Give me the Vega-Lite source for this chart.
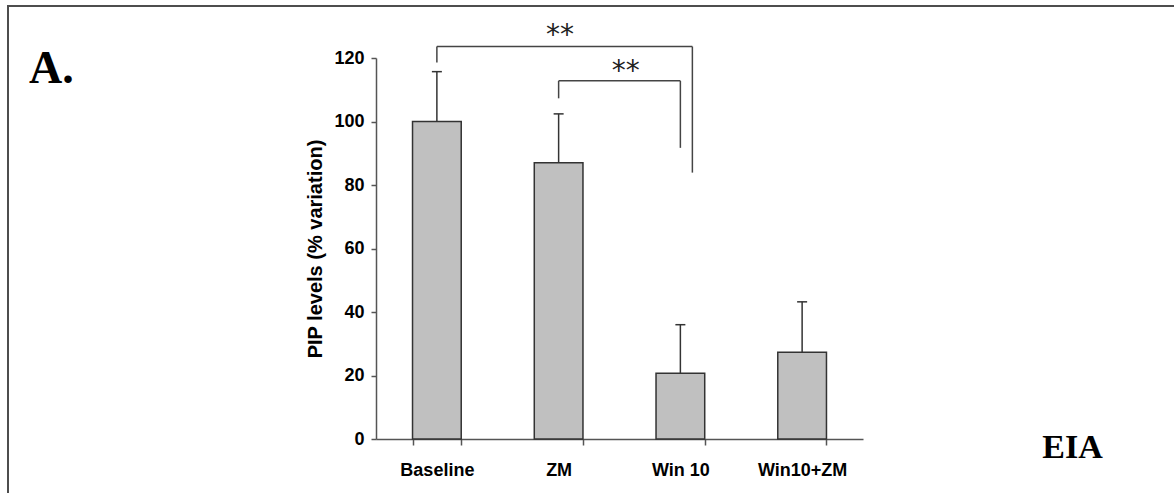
{
  "$schema": "https://vega.github.io/schema/vega-lite/v6.json",
  "width": 1166,
  "height": 487,
  "autosize": {"type": "none"},
  "padding": {"left": 8, "top": 6, "right": 0, "bottom": 0},
  "background": "white",
  "title": {
    "text": "A.",
    "anchor": "start",
    "frame": "group",
    "orient": "top",
    "offset": 0,
    "dx": 21,
    "dy": 123,
    "baseline": "alphabetic",
    "font": "Liberation Serif",
    "fontSize": 46,
    "fontWeight": "bold",
    "color": "black"
  },
  "config": {
    "view": {"stroke": "#4d4d4d", "strokeWidth": 2, "strokeDash": [1166, 1653, 487]},
    "axis": {"grid": false}
  },
  "datasets": {
    "bars": [
      {"group": "Baseline", "value": 100, "upper": 115.7},
      {"group": "ZM", "value": 87, "upper": 102.4},
      {"group": "Win 10", "value": 20.7, "upper": 36},
      {"group": "Win10+ZM", "value": 27.3, "upper": 43.2}
    ],
    "legs": [
      {"comparison": "A", "group": "Baseline", "from": 118.6, "to": 123.6},
      {"comparison": "A", "group": "Win 10", "from": 83.9, "to": 123.6},
      {"comparison": "B", "group": "ZM", "from": 107.3, "to": 112.8},
      {"comparison": "B", "group": "Win 10", "from": 91.7, "to": 112.8}
    ],
    "spans": [
      {"comparison": "A", "start": "Baseline", "end": "Win 10", "level": 123.6, "label": "**", "labelLevel": 124.3},
      {"comparison": "B", "start": "ZM", "end": "Win 10", "level": 112.8, "label": "**", "labelLevel": 113.2}
    ]
  },
  "layer": [
    {
      "data": {"name": "bars"},
      "mark": {"type": "bar", "fill": "#c0c0c0", "stroke": "#333333", "strokeWidth": 1.5},
      "encoding": {
        "x": {
          "field": "group", "type": "nominal", "title": "EIA",
          "scale": {"domain": ["Baseline", "ZM", "Win 10", "Win10+ZM"], "range": [368, 855], "paddingInner": 0.6, "paddingOuter": 0.3},
          "axis": {
            "orient": "bottom", "offset": -54, "tickBand": "extent", "tickSize": 6,
            "labelAngle": 0, "labelPadding": 30, "labelBaseline": "alphabetic",
            "labelFont": "Liberation Sans", "labelFontSize": 18, "labelFontWeight": "bold", "labelColor": "black",
            "domainColor": "#555555", "tickColor": "#555555", "domainWidth": 1.5, "tickWidth": 1.5,
            "titleX": 1064, "titleY": 18, "titleBaseline": "alphabetic", "titleAlign": "center",
            "titleFont": "Liberation Serif", "titleFontSize": 34, "titleFontWeight": "bold", "titleColor": "black"
          }
        },
        "y": {
          "field": "value", "type": "quantitative", "title": "PIP levels (% variation)",
          "scale": {"domain": [0, 120], "range": [433, 52], "nice": false},
          "axis": {
            "values": [0, 20, 40, 60, 80, 100, 120], "offset": -368, "tickSize": 5, "labelPadding": 7,
            "labelFont": "Liberation Sans", "labelFontSize": 18, "labelFontWeight": "bold", "labelColor": "black",
            "domainColor": "#555555", "tickColor": "#555555", "domainWidth": 1.5, "tickWidth": 1.5,
            "titleFont": "Liberation Sans", "titleFontSize": 20, "titleFontWeight": "bold", "titleColor": "black", "titlePadding": 8
          }
        }
      }
    },
    {
      "data": {"name": "bars"},
      "mark": {"type": "rule", "stroke": "#333333", "strokeWidth": 1.5},
      "encoding": {
        "x": {"field": "group", "type": "nominal", "title": "EIA"},
        "y": {"field": "value", "type": "quantitative", "title": "PIP levels (% variation)"},
        "y2": {"field": "upper"}
      }
    },
    {
      "data": {"name": "bars"},
      "mark": {"type": "tick", "color": "#333333", "size": 10, "thickness": 1.5, "opacity": 1},
      "encoding": {
        "x": {"field": "group", "type": "nominal", "title": "EIA"},
        "y": {"field": "upper", "type": "quantitative", "title": "PIP levels (% variation)"}
      }
    },
    {
      "data": {"name": "legs"},
      "transform": [{"filter": "!(datum.comparison === 'A' && datum.group === 'Win 10')"}],
      "mark": {"type": "rule", "stroke": "#444444", "strokeWidth": 1.5},
      "encoding": {
        "x": {"field": "group", "type": "nominal", "title": "EIA"},
        "y": {"field": "from", "type": "quantitative", "title": "PIP levels (% variation)"},
        "y2": {"field": "to"}
      }
    },
    {
      "data": {"name": "legs"},
      "transform": [{"filter": "datum.comparison === 'A' && datum.group === 'Win 10'"}],
      "mark": {"type": "rule", "stroke": "#444444", "strokeWidth": 1.5, "xOffset": 12},
      "encoding": {
        "x": {"field": "group", "type": "nominal", "title": "EIA"},
        "y": {"field": "from", "type": "quantitative", "title": "PIP levels (% variation)"},
        "y2": {"field": "to"}
      }
    },
    {
      "data": {"name": "spans"},
      "transform": [{"filter": "datum.comparison === 'A'"}],
      "mark": {"type": "rule", "stroke": "#444444", "strokeWidth": 1.5, "x2Offset": 12},
      "encoding": {
        "x": {"field": "start", "type": "nominal", "title": "EIA"},
        "x2": {"field": "end"},
        "y": {"field": "level", "type": "quantitative", "title": "PIP levels (% variation)"}
      }
    },
    {
      "data": {"name": "spans"},
      "transform": [{"filter": "datum.comparison === 'B'"}],
      "mark": {"type": "rule", "stroke": "#444444", "strokeWidth": 1.5},
      "encoding": {
        "x": {"field": "start", "type": "nominal", "title": "EIA"},
        "x2": {"field": "end"},
        "y": {"field": "level", "type": "quantitative", "title": "PIP levels (% variation)"}
      }
    },
    {
      "data": {"name": "spans"},
      "transform": [{"filter": "datum.comparison === 'A'"}],
      "mark": {"type": "text", "font": "DejaVu Sans", "fontSize": 28, "color": "#222222", "align": "center", "baseline": "alphabetic", "dx": 123},
      "encoding": {
        "x": {"field": "start", "type": "nominal", "title": "EIA"},
        "y": {"field": "labelLevel", "type": "quantitative", "title": "PIP levels (% variation)"},
        "text": {"field": "label"}
      }
    },
    {
      "data": {"name": "spans"},
      "transform": [{"filter": "datum.comparison === 'B'"}],
      "mark": {"type": "text", "font": "DejaVu Sans", "fontSize": 28, "color": "#222222", "align": "center", "baseline": "alphabetic", "dx": 67},
      "encoding": {
        "x": {"field": "start", "type": "nominal", "title": "EIA"},
        "y": {"field": "labelLevel", "type": "quantitative", "title": "PIP levels (% variation)"},
        "text": {"field": "label"}
      }
    }
  ]
}
